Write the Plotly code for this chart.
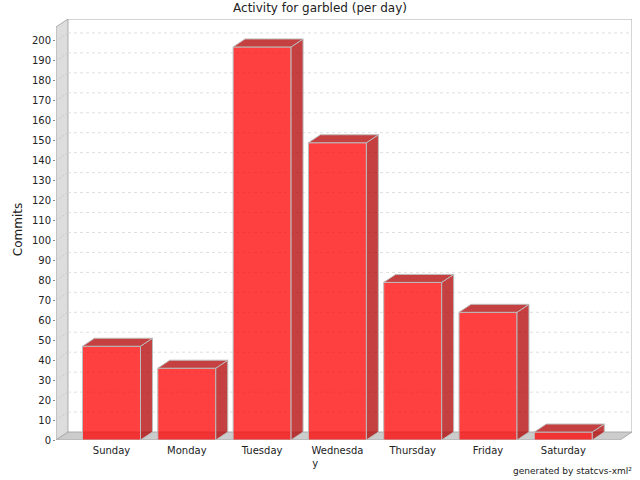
import plotly.graph_objects as go

# ---- data ----
days = ["Sunday", "Monday", "Tuesday", "Wednesday", "Thursday", "Friday", "Saturday"]
tick_labels = ["Sunday", "Monday", "Tuesday", "Wednesda<br>y" + "\u00a0" * 14,
               "Thursday", "Friday", "Saturday"]
commits = [47, 36, 197, 149, 79, 64, 4]
y_ticks = list(range(0, 201, 10))

# ---- style / geometry ----
BAR_W = 0.77          # bar width in category units
DX = 0.159            # 3D depth in x (category units)
DY = 4.0              # 3D depth in y (value units)
X0, X1 = -0.737, 6.912
Y_TOP = 211.0
FRONT = "rgba(255,0,0,0.75)"
DARK = "rgba(178,0,0,0.75)"
OUTLINE = "#BDBDBD"
WALL = "#DDDDDD"
FLOOR = "#CCCCCC"
EDGE = "#AAAAAA"
FONT = "DejaVu Sans"
PLOT_H = 421

xs = list(range(len(days)))
fig = go.Figure()

# front faces
fig.add_trace(go.Bar(x=xs, y=commits, width=BAR_W,
                     marker=dict(color=FRONT, line=dict(color=OUTLINE, width=1)),
                     hoverinfo="skip", showlegend=False))

# top and side faces
for x, v in zip(xs, commits):
    l, r = x - BAR_W / 2, x + BAR_W / 2
    fig.add_trace(go.Scatter(x=[r, r + DX, r + DX, r, r], y=[0, DY, v + DY, v, 0],
                             fill="toself", fillcolor=DARK, mode="lines",
                             line=dict(color=OUTLINE, width=1), hoverinfo="skip",
                             showlegend=False))
    fig.add_trace(go.Scatter(x=[l, r, r + DX, l + DX, l], y=[v, v, v + DY, v + DY, v],
                             fill="toself", fillcolor=DARK, mode="lines",
                             line=dict(color=OUTLINE, width=1), hoverinfo="skip",
                             showlegend=False))

shapes = []
# left side wall
shapes.append(dict(type="path", layer="below", xref="x", yref="y",
                   path=f"M {X0} 0 L {X0+DX} {DY} L {X0+DX} {Y_TOP} L {X0} {Y_TOP-DY} Z",
                   fillcolor=WALL, line=dict(color=EDGE, width=1)))
# floor
shapes.append(dict(type="path", layer="below", xref="x", yref="y",
                   path=f"M {X0} 0 L {X1-DX} 0 L {X1} {DY} L {X0+DX} {DY} Z",
                   fillcolor=FLOOR, line=dict(color=EDGE, width=1)))
# back wall border
shapes.append(dict(type="path", layer="below", xref="x", yref="y",
                   path=f"M {X0+DX} {Y_TOP} L {X1} {Y_TOP} L {X1} {DY}",
                   line=dict(color=EDGE, width=1)))
# gridlines on back wall and side wall
for t in y_ticks[1:]:
    shapes.append(dict(type="line", layer="below", xref="x", yref="y",
                       x0=X0 + DX, x1=X1, y0=t + DY, y1=t + DY,
                       line=dict(color="#DEDEDE", width=1, dash="3px,3px")))
    shapes.append(dict(type="line", layer="below", xref="x", yref="y",
                       x0=X0, x1=X0 + DX, y0=t, y1=t + DY,
                       line=dict(color="#C8C8C8", width=1, dash="2px,2px")))

fig.update_layout(
    width=640, height=480,
    margin=dict(l=56, r=8, t=19, b=40, autoexpand=False),
    paper_bgcolor="white", plot_bgcolor="white",
    font=dict(family=FONT, color="#333333", size=10),
    title=dict(text="Activity for garbled (per day)", x=0.5, xanchor="center",
               y=1 - 8 / 480, yanchor="middle", yref="container",
               font=dict(family=FONT, size=12, color="#222222")),
    shapes=shapes,
    xaxis=dict(range=[X0, X1], tickmode="array", tickvals=xs, ticktext=tick_labels,
               showgrid=False, zeroline=False, showline=False, ticks="",
               automargin=False, ticklabelstandoff=3,
               tickfont=dict(size=10, color="#222222")),
    yaxis=dict(range=[0, Y_TOP], tickmode="array", tickvals=y_ticks,
               showgrid=False, zeroline=False, showline=False,
               ticks="outside", ticklen=2, tickcolor="#888888", automargin=False,
               tickfont=dict(size=10, color="#222222"),
               title=dict(text="Commits", standoff=6,
                          font=dict(size=12, color="#222222"))),
    annotations=[dict(text="generated by statcvs-xml²", xref="paper", yref="paper",
                      x=1, y=-31 / PLOT_H, xanchor="right", yanchor="middle",
                      xshift=2, showarrow=False,
                      font=dict(size=9, color="#222222"))],
)

fig.write_html("out.html", config={"displayModeBar": False},
               post_script="document.body.style.margin='0';")
